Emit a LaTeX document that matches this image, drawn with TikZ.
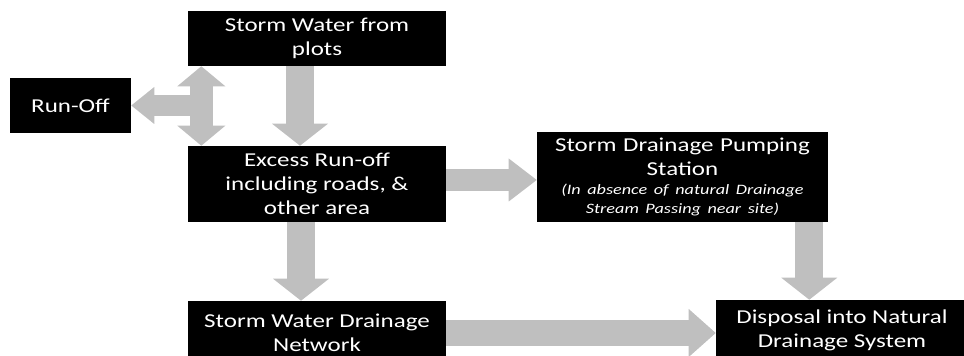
\documentclass[tikz,border=0pt]{standalone}
\usepackage{fontspec}
\setmainfont{Carlito}[FakeStretch=1.27]
\usetikzlibrary{arrows.meta}

\newcommand{\boxfont}{\fontsize{14}{17}\selectfont}
\newcommand{\notefont}{\fontsize{10.2}{13.8}\selectfont\itshape}

\tikzset{
  box/.style={fill=black,text=white,align=center,inner sep=0pt,font=\boxfont},
  flow/.style={draw=black!25,line width=0.7cm},
}

\begin{document}
\begin{tikzpicture}
  \useasboundingbox (0,0) rectangle (24.1,8.9);
  \clip (0,0) rectangle (24.1,8.9);

  % boxes
  \node [box,minimum width=6.45cm,minimum height=1.375cm] (plots) at (7.925,7.9375) {Storm Water from\\plots};
  \node [box,minimum width=3.025cm,minimum height=1.375cm] (runoff) at (1.7625,6.2625) {Run-Off};
  \node [box,minimum width=6.45cm,minimum height=1.9cm] (excess) at (7.925,4.3) {Excess Run-off\\including roads, \&\\other area};
  \node [box,text width=7.275cm,minimum height=2.25cm] (pump) at (17.0625,4.475)
    {{\boxfont Storm Drainage Pumping\\Station\par}{\notefont (In absence of natural Drainage\\Stream Passing near site)\par}};
  \node [box,minimum width=6.45cm,minimum height=1.6cm] (network) at (7.925,0.575) {Storm Water Drainage\\Network};
  \node [box,minimum width=6.3cm,minimum height=1.5cm] (disposal) at (21.05,0.65) {Disposal into Natural\\Drainage System};

  % run-off branch
  \coordinate (vtop) at ([xshift=0.34cm]plots.south west);
  \coordinate (junc) at (vtop |- runoff.east);
  \draw [flow,line width=0.525cm,-{Triangle[width=0.925cm,length=0.575cm,line width=0pt]}] (junc) -- (runoff.east);
  \draw [flow,line width=0.575cm,{Triangle[width=1.2cm,length=0.5cm,line width=0pt]}-{Triangle[width=1.2cm,length=0.5cm,line width=0pt]}] (vtop) -- (vtop |- excess.north);

  % main flow
  \coordinate (dtop) at ([xshift=-0.425cm]plots.south);
  \draw [flow,-{Triangle[width=1.4cm,length=0.55cm,line width=0pt]}] (dtop) -- (dtop |- excess.north);
  \coordinate (dmid) at ([xshift=-0.4cm]excess.south);
  \draw [flow,-{Triangle[width=1.4cm,length=0.55cm,line width=0pt]}] (dmid) -- (dmid |- network.north);
  \coordinate (pmid) at ([yshift=0.1cm]excess.east);
  \draw [flow,line width=0.55cm,-{Triangle[width=1.075cm,length=0.7cm,line width=0pt]}] (pmid) -- (pmid -| pump.west);
  \coordinate (pdown) at ([xshift=-0.475cm]pump.south east);
  \draw [flow,-{Triangle[width=1.4cm,length=0.55cm,line width=0pt]}] (pdown) -- (pdown |- disposal.north);
  \draw [flow,line width=0.65cm,-{Triangle[width=1.2cm,length=0.675cm,line width=0pt]}] (network.east) -- (network.east -| disposal.west);
\end{tikzpicture}
\end{document}
